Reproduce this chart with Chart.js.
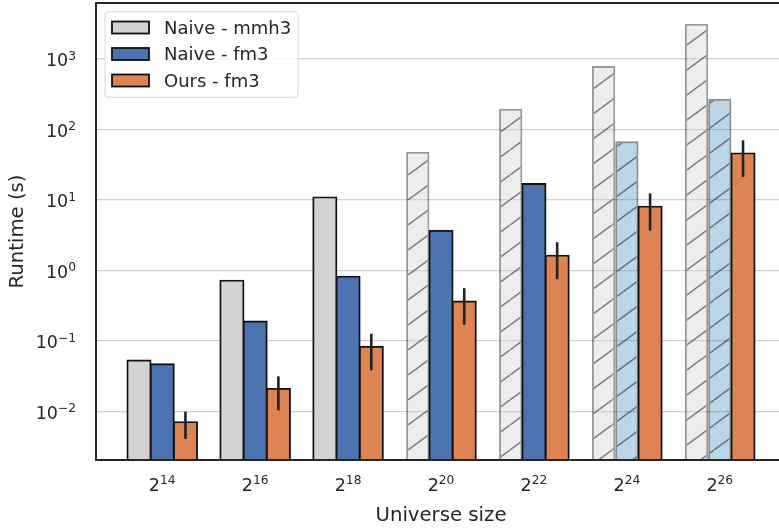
<!DOCTYPE html>
<html>
<head>
<meta charset="utf-8">
<script src="https://cdn.jsdelivr.net/npm/chart.js@4"></script>
<style>
  html, body { margin: 0; padding: 0; background: #fff; overflow: hidden; width: 779px; height: 528px; }
  canvas { display: block; }
</style>
</head>
<body>
<canvas id="chart1" width="786" height="528"></canvas>
<script>
// universe sizes are 2^exp
const exponents = [14, 16, 18, 20, 22, 24, 26];
const naiveMmh3 = [0.053, 0.72, 10.9, 48, 196, 790, 3130];
const naiveFm3 = [0.047, 0.19, 0.82, 3.65, 16.9, 68, 272];
const oursFm3 = [0.0071, 0.021, 0.083, 0.364, 1.63, 8.05, 45.8];
const oursLow = [0.0041, 0.0104, 0.0385, 0.170, 0.755, 3.68, 21.2];
const oursHigh = [0.0100, 0.0316, 0.127, 0.562, 2.52, 12.4, 70];
// hatched = estimated runs
const mmh3Estimated = [false, false, false, true, true, true, true];
const fm3Estimated = [false, false, false, false, false, true, true];
const oursEstimated = [false, false, false, false, false, false, false];
const yTicks = [0.01, 0.1, 1, 10, 100, 1000];
const legendNames = ["Naive - mmh3", "Naive - fm3", "Ours - fm3"];

const TEXT = '#262626';
const FONT = '"DejaVu Sans", sans-serif';

function hatch(fill, line) {
    let c = document.createElement('canvas');
    c.width = 34;
    c.height = 25;
    let g = c.getContext('2d');
    g.fillStyle = fill;
    g.fillRect(0, 0, 34, 25);
    g.strokeStyle = line;
    g.lineWidth = 1.6;
    g.beginPath();
    for (let dx of [-34, 0, 34]) {
        g.moveTo(dx, 25);
        g.lineTo(dx + 34, 0);
    }
    g.stroke();
    return g.createPattern(c, 'repeat');
}

let grayHatch = hatch('rgba(211,211,211,0.4)', 'rgba(0,0,0,0.45)');
let blueHatch = hatch('rgba(31,119,180,0.3)', 'rgba(0,0,0,0.45)');

function points(values) {
    return values.map((v, i) => ({ x: i, y: v }));
}

// superscript helper: base + smaller raised exponent
function supText(ctx, base, exp, x, y, align, size) {
    ctx.font = size + 'px ' + FONT;
    let bw = ctx.measureText(base).width;
    ctx.font = (size * 0.7) + 'px ' + FONT;
    let ew = ctx.measureText(exp).width;
    let start = align === 'right' ? x - bw - ew : x - (bw + ew) / 2;
    ctx.textAlign = 'left';
    ctx.textBaseline = 'alphabetic';
    ctx.font = size + 'px ' + FONT;
    ctx.fillText(base, start, y);
    ctx.font = (size * 0.7) + 'px ' + FONT;
    ctx.fillText(exp, start + bw, y - 6.5);
}

const decorations = {
    id: 'decorations',
    afterDatasetsDraw(chart) {
        let ctx = chart.ctx;
        let area = chart.chartArea;
        let xs = chart.scales.x;
        let ys = chart.scales.y;
        ctx.save();

        // error bars on "Ours"
        let meta = chart.getDatasetMeta(2);
        ctx.strokeStyle = '#222';
        ctx.lineWidth = 2.6;
        meta.data.forEach((bar, i) => {
            ctx.beginPath();
            ctx.moveTo(bar.x, ys.getPixelForValue(oursHigh[i]));
            ctx.lineTo(bar.x, ys.getPixelForValue(oursLow[i]));
            ctx.stroke();
        });

        // frame
        ctx.strokeStyle = TEXT;
        ctx.lineWidth = 2;
        ctx.strokeRect(area.left, area.top, area.right - area.left, area.bottom - area.top);

        // legend
        let lx = 105, ly = 11.7, lw = 193, lh = 85.5;
        ctx.beginPath();
        ctx.roundRect(lx, ly, lw, lh, 3);
        ctx.fillStyle = 'rgba(255,255,255,0.85)';
        ctx.fill();
        ctx.strokeStyle = '#d6d6d6';
        ctx.lineWidth = 1;
        ctx.stroke();
        let rows = [27.5, 54, 80.5];
        legendNames.forEach((name, i) => {
            let ds = chart.data.datasets[i];
            ctx.fillStyle = ds.legendColor;
            ctx.fillRect(112, rows[i] - 6, 37, 12);
            ctx.strokeStyle = '#111';
            ctx.lineWidth = 1.8;
            ctx.strokeRect(112, rows[i] - 6, 37, 12);
            ctx.fillStyle = TEXT;
            ctx.font = '18px ' + FONT;
            ctx.textAlign = 'left';
            ctx.textBaseline = 'alphabetic';
            ctx.fillText(name, 164, rows[i] + 6.2);
        });

        // tick labels
        ctx.fillStyle = TEXT;
        yTicks.forEach(v => {
            let y = ys.getPixelForValue(v);
            let e = Math.round(Math.log10(v));
            supText(ctx, '10', String(e).replace('-', '\u2212'), 76, y + 7.3, 'right', 17.5);
        });
        exponents.forEach((e, i) => {
            supText(ctx, '2', String(e), xs.getPixelForValue(i), 490.5, 'center', 17.5);
        });

        // axis titles
        ctx.font = '19.7px ' + FONT;
        ctx.textAlign = 'center';
        ctx.textBaseline = 'alphabetic';
        ctx.fillText('Universe size', (area.left + 786) / 2, 520.5);
        ctx.save();
        ctx.translate(23, (area.top + area.bottom) / 2);
        ctx.rotate(-Math.PI / 2);
        ctx.fillText('Runtime (s)', 0, 0);
        ctx.restore();

        ctx.restore();
    }
};

function barStyle(estimated) {
    return {
        barPercentage: 1,
        categoryPercentage: 0.75,
        borderWidth: 1.9,
        // overlap solid neighbours a little, keep translucent bars flat
        inflateAmount: c => estimated[c.dataIndex] ? 0 : 0.9
    };
}

let options = {
    type: 'bar',
    data: {
        datasets: [
            Object.assign({
                label: legendNames[0],
                data: points(naiveMmh3),
                legendColor: '#d3d3d3',
                backgroundColor: mmh3Estimated.map(h => h ? grayHatch : '#d3d3d3'),
                borderColor: mmh3Estimated.map(h => h ? 'rgba(0,0,0,0.4)' : '#111')
            }, barStyle(mmh3Estimated)),
            Object.assign({
                label: legendNames[1],
                data: points(naiveFm3),
                legendColor: '#4c72b0',
                backgroundColor: fm3Estimated.map(h => h ? blueHatch : '#4c72b0'),
                borderColor: fm3Estimated.map(h => h ? 'rgba(0,0,0,0.45)' : '#111')
            }, barStyle(fm3Estimated)),
            Object.assign({
                label: legendNames[2],
                data: points(oursFm3),
                legendColor: '#dd8452',
                backgroundColor: '#dd8452',
                borderColor: '#111'
            }, barStyle(oursEstimated))
        ]
    },
    options: {
        responsive: false,
        animation: false,
        layout: { padding: { top: 3, left: 0, right: 0, bottom: 0 } },
        plugins: {
            legend: { display: false },
            tooltip: { enabled: false }
        },
        scales: {
            x: {
                type: 'linear',
                offset: false,
                min: -0.7125,
                max: 6.7125,
                afterBuildTicks: s => { s.ticks = exponents.map((e, i) => ({ value: i })); },
                afterFit: s => { s.height = 68; },
                ticks: { display: false },
                grid: { display: false, offset: false },
                border: { display: false }
            },
            y: {
                type: 'logarithmic',
                min: 0.00206,
                max: 6200,
                afterBuildTicks: s => { s.ticks = yTicks.map(v => ({ value: v })); },
                afterFit: s => { s.width = 96; },
                ticks: { display: false },
                grid: { color: '#d0d0d0', lineWidth: 1.3, drawTicks: false },
                border: { display: false }
            }
        }
    },
    plugins: [decorations]
};

let chartElement = document.querySelector('#chart1');
let chart = new Chart(chartElement, options);
</script>
</body>
</html>
